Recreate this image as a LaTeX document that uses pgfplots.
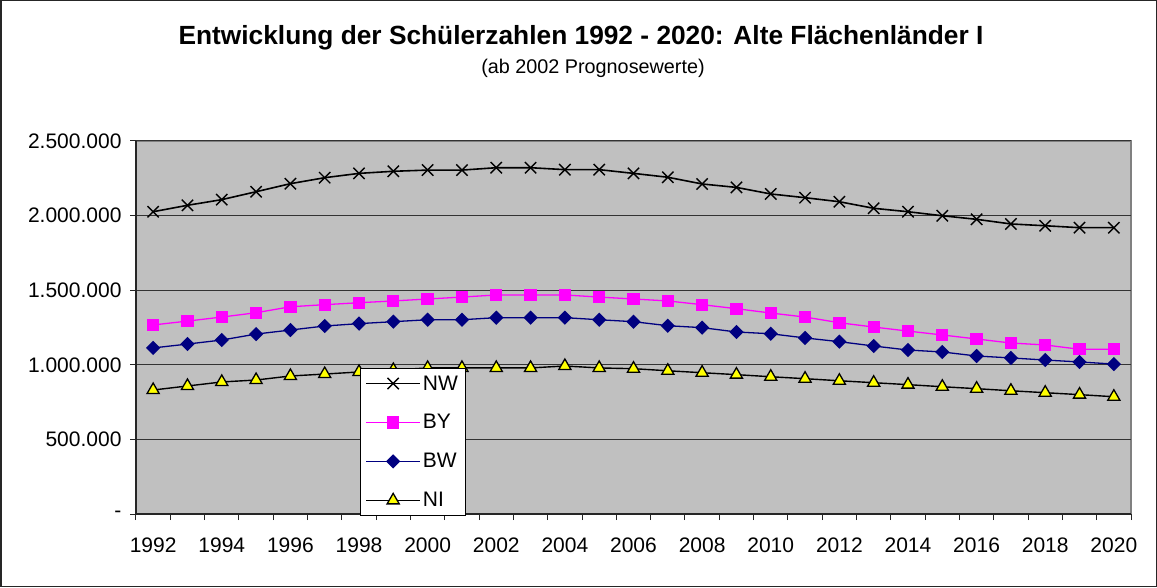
\documentclass[border=0pt]{standalone}
\usepackage{fontspec}
\setmainfont{Liberation Sans}
\usepackage{pgfplots}
\pgfplotsset{compat=1.18}
\definecolor{plotgray}{HTML}{C0C0C0}
\definecolor{bymag}{HTML}{FF00FF}
\definecolor{bwnavy}{HTML}{000080}
\definecolor{niyel}{HTML}{FFFF00}
\begin{document}
\begin{tikzpicture}
\useasboundingbox (0pt,0pt) rectangle (1157pt,587pt);
\draw[line width=1.5pt, black!85] (0.75pt,0.75pt) rectangle (1156.25pt,586.25pt);
\node[font=\bfseries\fontsize{26.3}{30}\selectfont] at (581pt,549pt) {Entwicklung der Schülerzahlen 1992 - 2020: Alte Flächenländer I};
\node[font=\fontsize{19.8}{23}\selectfont] at (593pt,519pt) {(ab 2002 Prognosewerte)};
\begin{axis}[
  at={(136pt,73pt)}, anchor=south west,
  scale only axis, width=995pt, height=373pt,
  xmin=1991.5, xmax=2020.5, ymin=0, ymax=2500000,
  scaled y ticks=false,
  axis lines*=left,
  axis line style={black!85, line width=1.3pt},
  axis background/.style={fill=plotgray, draw=black!50, line width=1.3pt},
  tick align=outside,
  major tick length=6pt, minor tick length=6pt,
  xtick={1992,1994,...,2020},
  xticklabels={1992,1994,1996,1998,2000,2002,2004,2006,2008,2010,2012,2014,2016,2018,2020},
  minor xtick={1991.5,1992.5,...,2020.5},
  major x tick style={draw=none},
  minor x tick style={black!85, line width=1pt},
  ytick={0,500000,1000000,1500000,2000000,2500000},
  yticklabels={-,500.000,1.000.000,1.500.000,2.000.000,2.500.000},
  y tick style={black!85, line width=1pt},
  ymajorgrids=true,
  major grid style={black!80, line width=1pt},
  tick label style={font=\fontsize{21}{25}\selectfont},
  yticklabel style={xshift=-5pt},
  xticklabel style={yshift=-14pt},
  legend style={at={(0.2251,0.391)}, anchor=north west, draw=black, fill=white,
    font=\fontsize{21}{25}\selectfont, row sep=19pt, inner sep=5pt, line width=0.8pt},
  legend cell align=left,
  legend image code/.code={\draw[mark repeat=2,mark phase=2,#1] plot coordinates {(3pt,0pt) (30pt,0pt) (57pt,0pt)};},
]
\addplot[black, line width=1.6pt, mark=x, mark size=8pt, mark options={line width=1.4pt}] coordinates {
(1992,2026000)(1993,2069000)(1994,2107000)(1995,2160000)(1996,2214000)(1997,2254000)(1998,2283000)
(1999,2297000)(2000,2305000)(2001,2305000)(2002,2321000)(2003,2321000)(2004,2308000)(2005,2308000)
(2006,2283000)(2007,2257000)(2008,2212000)(2009,2189000)(2010,2145000)(2011,2120000)(2012,2093000)
(2013,2049000)(2014,2026000)(2015,1999000)(2016,1975000)(2017,1944000)(2018,1932000)(2019,1919000)(2020,1919000)};
\addlegendentry{NW}
\addplot[bymag, line width=1.3pt, mark=square*, mark size=5.5pt, mark options={fill=bymag, draw=bymag}] coordinates {
(1992,1267000)(1993,1293000)(1994,1320000)(1995,1349000)(1996,1389000)(1997,1403000)(1998,1416000)
(1999,1428000)(2000,1441000)(2001,1454000)(2002,1468000)(2003,1468000)(2004,1468000)(2005,1454000)
(2006,1441000)(2007,1428000)(2008,1403000)(2009,1376000)(2010,1347000)(2011,1320000)(2012,1282000)
(2013,1253000)(2014,1226000)(2015,1200000)(2016,1173000)(2017,1146000)(2018,1133000)(2019,1104000)(2020,1104000)};
\addlegendentry{BY}
\addplot[bwnavy, line width=1.3pt, mark=square*, mark size=4.4pt, mark options={fill=bwnavy, draw=bwnavy, rotate=45}] coordinates {
(1992,1113000)(1993,1139000)(1994,1166000)(1995,1206000)(1996,1233000)(1997,1260000)(1998,1276000)
(1999,1289000)(2000,1302000)(2001,1302000)(2002,1316000)(2003,1316000)(2004,1316000)(2005,1302000)
(2006,1289000)(2007,1262000)(2008,1249000)(2009,1220000)(2010,1208000)(2011,1180000)(2012,1155000)
(2013,1126000)(2014,1099000)(2015,1086000)(2016,1059000)(2017,1046000)(2018,1032000)(2019,1019000)(2020,1005000)};
\addlegendentry{BW}
\addplot[black, line width=1.4pt, mark=triangle*, mark size=7pt, mark options={fill=niyel, draw=black, line width=1.3pt}] coordinates {
(1992,831000)(1993,858000)(1994,885000)(1995,898000)(1996,925000)(1997,938000)(1998,952000)
(1999,965000)(2000,979000)(2001,979000)(2002,979000)(2003,979000)(2004,992000)(2005,979000)
(2006,974000)(2007,960000)(2008,947000)(2009,934000)(2010,920000)(2011,907000)(2012,893000)
(2013,880000)(2014,867000)(2015,853000)(2016,840000)(2017,826000)(2018,813000)(2019,800000)(2020,786000)};
\addlegendentry{NI}
\end{axis}
\end{tikzpicture}
\end{document}
